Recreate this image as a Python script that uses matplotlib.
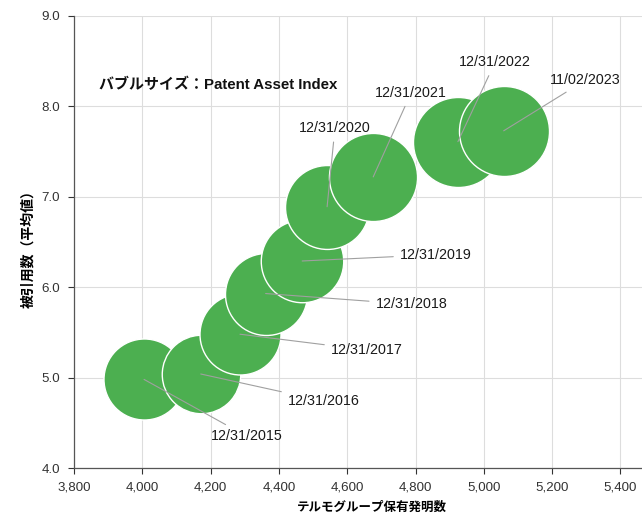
import matplotlib
matplotlib.use("Agg")
import numpy as np
import matplotlib.pyplot as plt
from matplotlib.ticker import FuncFormatter, MultipleLocator

plt.rcParams['font.family'] = ['Liberation Sans', 'Noto Sans CJK JP']

dates = ["12/31/2015", "12/31/2016", "12/31/2017", "12/31/2018", "12/31/2019",
         "12/31/2020", "12/31/2021", "12/31/2022", "11/02/2023"]
inventions = [4005, 4171, 4286, 4361, 4468, 4541, 4676, 4924, 5058]
citations = [4.98, 5.04, 5.48, 5.93, 6.29, 6.89, 7.22, 7.61, 7.73]
# Patent Asset Index (relative)
pai = [1640, 1540, 1640, 1680, 1700, 1760, 1940, 2025, 2025]

# label anchor positions (data coords) and alignment
label_pos = [(4201, 4.35), (4427, 4.74), (4553, 5.305), (4684, 5.81), (4755, 6.36),
             (4564, 7.76), (4787, 8.15), (5033, 8.49), (5194, 8.29)]
label_ha = ["left", "left", "left", "left", "left", "center", "center", "center", "left"]

fig = plt.figure(figsize=(6.42, 5.16), dpi=100)
ax = fig.add_axes([0.1153, 0.093, 0.8847, 0.876])

sizes = [(1.44 * np.sqrt(v / 1640.0) * 40.5) ** 2 for v in pai]

for x, y, s in zip(inventions, citations, sizes):
    ax.scatter([x], [y], s=s, color="#4caf50", edgecolors="white", linewidths=1.0, zorder=3)

for x, y, d, (tx, ty), ha in zip(inventions, citations, dates, label_pos, label_ha):
    ax.annotate(d, xy=(x, y), xytext=(tx, ty), ha=ha, va="center", fontsize=10.3,
                color="#1a1a1a", zorder=5,
                arrowprops=dict(arrowstyle="-", color="#a0a0a0", lw=0.8,
                                shrinkA=3, shrinkB=0))

ax.text(3873, 8.24, "バブルサイズ：Patent Asset Index", fontsize=10.8, fontweight="bold",
        ha="left", va="center", color="#111111")

ax.set_xlim(3800, 5463)
ax.set_ylim(4.0, 9.0)
ax.xaxis.set_major_locator(MultipleLocator(200))
ax.yaxis.set_major_locator(MultipleLocator(1.0))
ax.xaxis.set_major_formatter(FuncFormatter(lambda v, p: f"{int(v):,}"))
ax.yaxis.set_major_formatter(FuncFormatter(lambda v, p: f"{v:.1f}"))
ax.tick_params(labelsize=9.6, colors="#333333", length=4, width=0.8)
ax.tick_params(axis="x", pad=6)
ax.tick_params(axis="y", pad=6)
ax.grid(True, color="#dddddd", lw=0.8, zorder=0)
ax.set_axisbelow(True)
for sp in ["top", "right"]:
    ax.spines[sp].set_visible(False)
for sp in ["left", "bottom"]:
    ax.spines[sp].set_color("#555555")
    ax.spines[sp].set_linewidth(0.9)

ax.set_xlabel("テルモグループ保有発明数", fontsize=9, fontweight="bold")
ax.xaxis.set_label_coords(0.525, -0.088)
ax.xaxis.label.set_va("center")
ax.set_ylabel("被引用数（平均値）", fontsize=10, fontweight="bold")
ax.yaxis.set_label_coords(-0.08, 0.493)
ax.yaxis.label.set_va("center")

fig.savefig("out.png", dpi=100)
